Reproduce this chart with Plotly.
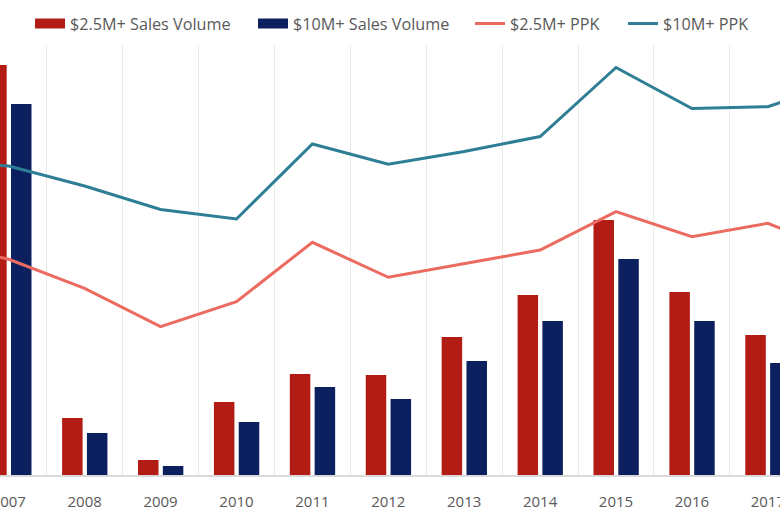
import plotly.graph_objects as go

# ---- data ----
years_all = [str(y) for y in range(2006, 2019)]
bar_years = [str(y) for y in range(2007, 2018)]
sales_25m = [4.10, 0.57, 0.15, 0.73, 1.01, 1.00, 1.38, 1.80, 2.55, 1.83, 1.40]   # $2.5M+ Sales Volume
sales_10m = [3.71, 0.42, 0.09, 0.53, 0.88, 0.76, 1.14, 1.54, 2.16, 1.54, 1.12]   # $10M+ Sales Volume
ppk_25m = [2330, 2157, 1867, 1483, 1733, 2327, 1977, 2110, 2250, 2633, 2383, 2517, 2210]  # $2.5M+ PPK
ppk_10m = [3130, 3090, 2890, 2655, 2560, 3310, 3107, 3235, 3385, 4075, 3665, 3683, 3940]  # $10M+ PPK

RED = "#B21C14"
NAVY = "#0C205F"
SALMON = "#EC6B60"
TEAL = "#2E7F95"
TXT = "#595959"
FONT = "Open Sans"

fig = go.Figure()

fig.add_trace(go.Bar(x=bar_years, y=sales_25m, name="$2.5M+ Sales Volume",
                     marker=dict(color=RED, line=dict(width=0)),
                     width=0.27, offset=-0.297, showlegend=False, yaxis="y"))
fig.add_trace(go.Bar(x=bar_years, y=sales_10m, name="$10M+ Sales Volume",
                     marker=dict(color=NAVY, line=dict(width=0)),
                     width=0.27, offset=0.03, showlegend=False, yaxis="y"))
fig.add_trace(go.Scatter(x=years_all, y=ppk_25m, name="$2.5M+ PPK", mode="lines",
                         line=dict(color=SALMON, width=3), showlegend=False, yaxis="y2"))
fig.add_trace(go.Scatter(x=years_all, y=ppk_10m, name="$10M+ PPK", mode="lines",
                         line=dict(color=TEAL, width=3), showlegend=False, yaxis="y2"))

# legend entries
legend_items = [("$2.5M+ Sales Volume", RED, 10, "legend", 36),
                ("$10M+ Sales Volume", NAVY, 10, "legend2", 259),
                ("$2.5M+ PPK", SALMON, 3, "legend3", 476),
                ("$10M+ PPK", TEAL, 3, "legend4", 629)]
for name, col, w, lg, _ in legend_items:
    fig.add_trace(go.Scatter(x=[None], y=[None], mode="lines", name=name,
                             line=dict(color=col, width=w), legend=lg, showlegend=True))

legend_common = dict(orientation="h", font=dict(family=FONT, size=16.2, color=TXT),
                     bgcolor="rgba(0,0,0,0)", borderwidth=0,
                     xref="container", yref="container", yanchor="middle", xanchor="left",
                     y=1 - 24 / 520, itemwidth=30)
layout_legends = {}
for name, col, w, lg, px in legend_items:
    layout_legends[lg] = dict(legend_common, x=(px - 6) / 780)

fig.update_layout(
    width=780, height=520,
    margin=dict(l=0, r=0, t=45, b=45, autoexpand=False),
    paper_bgcolor="white", plot_bgcolor="white",
    barmode="overlay",
    xaxis=dict(type="category", categoryorder="array", categoryarray=years_all,
               range=[0.885, 11.16], tickson="boundaries", automargin=False,
               showgrid=True, gridcolor="#EBEBEB", gridwidth=1,
               showline=True, linecolor="#D9D9D9", linewidth=2,
               ticks="", ticklabelstandoff=12,
               tickfont=dict(family=FONT, size=15, color=TXT)),
    yaxis=dict(range=[0, 4.3], visible=False, showgrid=False, zeroline=False, automargin=False),
    yaxis2=dict(range=[0, 4300], overlaying="y", visible=False, showgrid=False,
                zeroline=False, automargin=False),
    **layout_legends,
)

fig.write_html("out.html", config={"displayModeBar": False},
               post_script="document.body.style.margin='0';document.body.style.overflow='hidden';")
